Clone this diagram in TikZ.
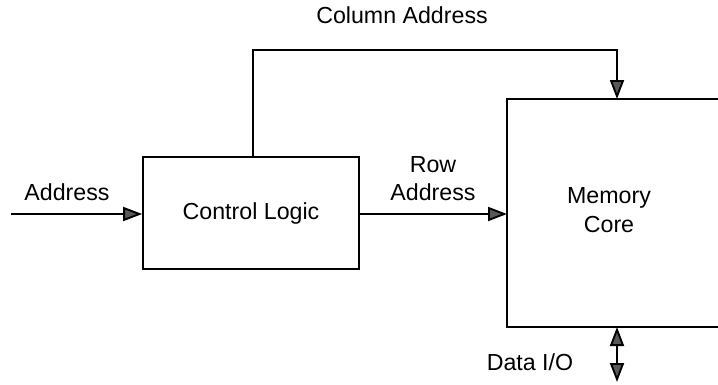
\documentclass[tikz,border=0pt]{standalone}
\usepackage{fontspec}
\setmainfont{Liberation Sans}
\usetikzlibrary{arrows.meta}
\begin{document}
\begin{tikzpicture}[x=1pt,y=-1pt,
  wire/.style={line width=1.9pt},
  head/.tip={Triangle[length=19pt,width=14pt,fill=black!65]},
  tip/.style={-head},
  lbl/.style={font=\fontsize{23.2}{27}\selectfont, inner sep=0pt},
  boxline/.style={line width=1.7pt}]
  \useasboundingbox (0,0) rectangle (718,384);
  % control logic block
  \node[draw, boxline, minimum width=216pt, minimum height=112pt, inner sep=0pt,
        font=\fontsize{23.2}{27}\selectfont] (ctrl) at (251,213) {Control Logic};
  % memory core block, open towards the right
  \coordinate (mtl) at (507,99);
  \coordinate (mtr) at (718,99);
  \coordinate (mbl) at (507,327);
  \coordinate (mbr) at (718,327);
  \draw[boxline] (mtr) -- (mtl) -- (mbl) -- (mbr);
  \node[lbl, align=center] (mem) at (609,210) {Memory\\[2pt]Core};
  % address input
  \coordinate (ain) at (11,214);
  \draw[wire, tip] (ain) -- (ain -| ctrl.west);
  \node[lbl] (alab) at (67,192) {Address};
  % row address
  \draw[wire, tip] (ctrl.east |- ain) -- (ain -| mtl);
  \node[lbl, align=center] (rlab) at (433,179) {Row\\[1pt]Address};
  % column address
  \coordinate (cup) at (253,50);
  \coordinate (cdn) at (617,50);
  \draw[wire, tip] (ctrl.north -| cup) -- (cup) -- (cdn) -- (cdn |- mtl);
  \node[lbl] (clab) at (402,15) {Column Address};
  % data i/o
  \coordinate (dio) at (617,382);
  \draw[wire, head-head] (dio |- mbl) -- (dio);
  \node[lbl] (dlab) at (530,362) {Data I/O};
\end{tikzpicture}
\end{document}
